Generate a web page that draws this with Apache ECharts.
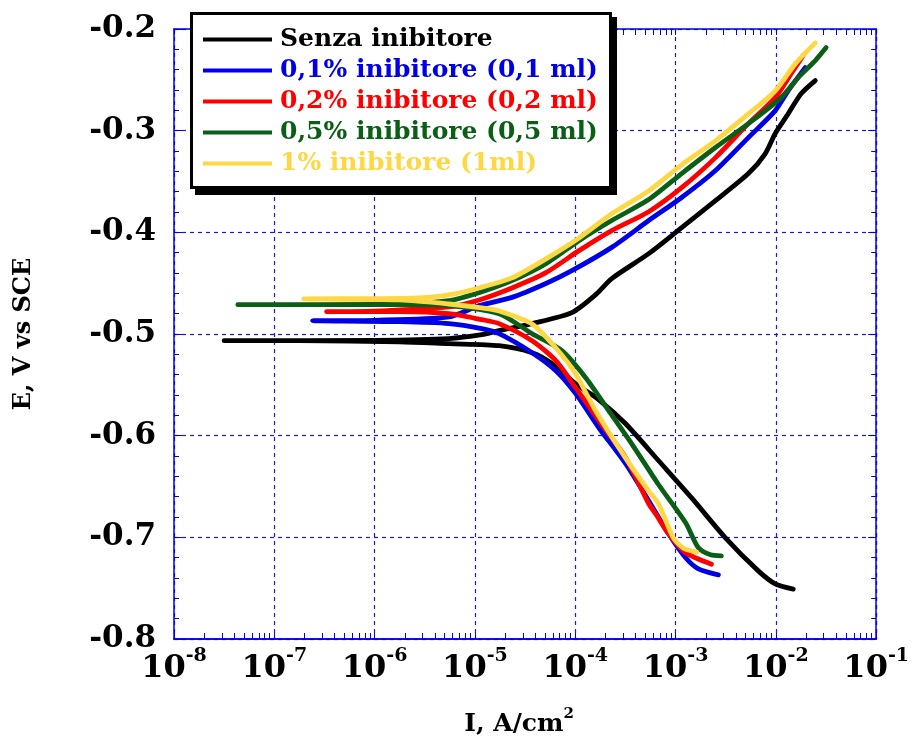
<!DOCTYPE html>
<html>
<head>
<meta charset="utf-8">
<script src="https://cdn.jsdelivr.net/npm/echarts@6/dist/echarts.min.js"></script>
<style>
html, body { margin: 0; padding: 0; background: #ffffff; }
#chart { width: 912px; height: 744px; }
</style>
</head>
<body>
<div id="chart"></div>
<script>
// Polarisation curves: current density (A/cm2, log scale) vs potential (V vs SCE).
// Each curve runs from the cathodic end, along the corrosion potential, then up the anodic branch.

const seriesNames = [
  'Senza inibitore',
  '0,1% inibitore (0,1 ml)',
  '0,2% inibitore (0,2 ml)',
  '0,5% inibitore (0,5 ml)',
  '1% inibitore (1ml)'
];
const seriesColors = ['#000000', '#0000e6', '#ff0000', '#0b5e16', '#fdd744'];

const senzaI = [1.49e-2, 9.86e-3, 6.68e-3, 3.14e-3, 1.44e-3, 6.78e-4, 3.18e-4, 1.72e-4, 1.01e-4, 5.85e-5, 3.71e-5, 1.74e-5, 5.5e-6, 1.78e-6, 1.78e-7, 3.16e-8,
                1.0e-6, 5.5e-6, 1.17e-5, 1.74e-5, 3.71e-5, 9.25e-5, 1.60e-4, 2.31e-4, 5.40e-4, 1.15e-3, 2.50e-3, 5.32e-3, 7.85e-3, 9.86e-3, 1.33e-2, 1.79e-2, 2.47e-2];
const senzaE = [-0.751, -0.7458, -0.733, -0.7005, -0.661, -0.6247, -0.5883, -0.5647, -0.549, -0.529, -0.5184, -0.5115, -0.5095, -0.5076, -0.5066, -0.5066,
                -0.5062, -0.5045, -0.5007, -0.4967, -0.4898, -0.479, -0.4613, -0.4455, -0.421, -0.3954, -0.3688, -0.3422, -0.3225, -0.3028, -0.2832, -0.2635, -0.2507];

const inib01I = [2.67e-3, 1.69e-3, 1.26e-3, 8.51e-4, 5.40e-4, 3.18e-4, 1.72e-4, 1.01e-4, 6.41e-5, 3.71e-5, 1.74e-5, 1.17e-5, 5.5e-6, 1.78e-6, 2.41e-7,
                 1.0e-6, 5.5e-6, 1.10e-5, 2.34e-5, 5.1e-5, 9.25e-5, 2.31e-4, 5.40e-4, 1.15e-3, 2.50e-3, 5.32e-3, 9.86e-3, 1.33e-2, 1.96e-2];
const inib01E = [-0.7369, -0.731, -0.7201, -0.6965, -0.664, -0.6276, -0.5922, -0.5587, -0.5361, -0.5184, -0.4997, -0.4948, -0.4898, -0.4879, -0.4869,
                 -0.4865, -0.4832, -0.4721, -0.464, -0.4503, -0.4377, -0.4148, -0.3884, -0.3657, -0.3392, -0.3068, -0.2803, -0.2606, -0.238];

const inib02I = [2.28e-3, 1.26e-3, 8.51e-4, 6.32e-4, 5.40e-4, 3.18e-4, 1.72e-4, 1.01e-4, 6.41e-5, 3.71e-5, 1.74e-5, 1.17e-5, 5.5e-6, 1.78e-6, 3.32e-7,
                 1.0e-6, 5.5e-6, 1.10e-5, 2.34e-5, 5.1e-5, 1.09e-4, 2.31e-4, 5.40e-4, 1.15e-3, 2.50e-3, 5.32e-3, 9.86e-3, 1.42e-2, 1.87e-2];
const inib02E = [-0.7264, -0.7152, -0.6965, -0.6768, -0.667, -0.6217, -0.5853, -0.5528, -0.5262, -0.5066, -0.4898, -0.4859, -0.48, -0.478, -0.478,
                 -0.4775, -0.4734, -0.4665, -0.4547, -0.4397, -0.418, -0.3983, -0.3797, -0.3561, -0.3265, -0.2931, -0.2675, -0.2439, -0.2262];

const inib05I = [2.86e-3, 2.23e-3, 1.69e-3, 1.26e-3, 6.78e-4, 3.66e-4, 2.16e-4, 1.27e-4, 7.36e-5, 3.71e-5, 1.74e-5, 5.5e-6, 1.78e-6, 4.33e-8,
                 1.0e-6, 5.5e-6, 1.10e-5, 2.34e-5, 5.1e-5, 1.09e-4, 2.31e-4, 5.40e-4, 1.15e-3, 2.50e-3, 5.32e-3, 1.13e-2, 1.67e-2, 2.47e-2, 3.17e-2];
const inib05E = [-0.7182, -0.7172, -0.7103, -0.6857, -0.6483, -0.608, -0.5755, -0.543, -0.5164, -0.4997, -0.48, -0.4721, -0.4712, -0.4712,
                 -0.4708, -0.4672, -0.4593, -0.4475, -0.4308, -0.4082, -0.3884, -0.3678, -0.3422, -0.3166, -0.2931, -0.2675, -0.2478, -0.2311, -0.2183];

const inib1I = [1.62e-3, 1.20e-3, 9.55e-4, 6.78e-4, 5.40e-4, 3.18e-4, 1.60e-4, 1.01e-4, 6.41e-5, 3.71e-5, 1.74e-5, 1.17e-5, 5.5e-6, 1.78e-6, 1.96e-7,
                1.0e-6, 2.79e-6, 5.5e-6, 1.10e-5, 2.34e-5, 5.1e-5, 1.09e-4, 2.31e-4, 5.40e-4, 1.15e-3, 2.50e-3, 5.32e-3, 9.86e-3, 1.56e-2, 2.47e-2];
const inib1E = [-0.7146, -0.7107, -0.7008, -0.6673, -0.6545, -0.6221, -0.5758, -0.5394, -0.5138, -0.4902, -0.4774, -0.4744, -0.4705, -0.4665, -0.4655,
                -0.4652, -0.4645, -0.4616, -0.4547, -0.4448, -0.4261, -0.4055, -0.3818, -0.3592, -0.3336, -0.31, -0.2835, -0.2608, -0.2343, -0.2137];

const currentSets = [senzaI, inib01I, inib02I, inib05I, inib1I];
const potentialSets = [senzaE, inib01E, inib02E, inib05E, inib1E];

// Axis ranges
const xMin = 1e-8, xMax = 1e-1;
const yMin = -0.8, yMax = -0.2, yStep = 0.1;
const decadeExponents = [-8, -7, -6, -5, -4, -3, -2];

const FONT = 'DejaVu Serif';
const AXIS_BLUE = '#0000ee';
const GRID_BLUE = '#1a1ae6';

// log ticks 1..9 in every decade
const logTicks = [];
decadeExponents.forEach(function (d) {
  for (let k = 1; k <= 9; k++) logTicks.push(parseFloat((k * Math.pow(10, d)).toPrecision(3)));
});
logTicks.push(xMax);

function pairs(xs, ys) {
  return xs.map(function (x, i) { return [x, ys[i]]; });
}

const chart = echarts.init(document.getElementById('chart'), null, { renderer: 'canvas' });

const series = seriesNames.map(function (name, i) {
  return {
    name: name,
    type: 'line',
    xAxisIndex: 0,
    yAxisIndex: 0,
    data: pairs(currentSets[i], potentialSets[i]),
    showSymbol: false,
    symbol: 'none',
    smooth: 0.25,
    lineStyle: { color: seriesColors[i], width: 4.8, cap: 'round', join: 'round' },
    itemStyle: { color: seriesColors[i] },
    emphasis: { disabled: true },
    animation: false,
    z: 2 + i
  };
});

const tickAxisCommon = {
  type: 'log',
  logBase: 10,
  min: xMin,
  max: xMax,
  gridIndex: 0,
  axisLine: { show: true, lineStyle: { color: AXIS_BLUE, width: 1.5 } },
  axisTick: { show: true, inside: true, length: 6, customValues: logTicks, lineStyle: { color: AXIS_BLUE, width: 1 } },
  axisLabel: { show: false },
  splitLine: { show: false },
  minorTick: { show: false }
};

const option = {
  backgroundColor: '#ffffff',
  animation: false,
  grid: { left: 174, top: 29, width: 704, height: 610, containLabel: false },
  xAxis: [
    {
      type: 'log',
      logBase: 10,
      min: xMin,
      max: xMax,
      position: 'bottom',
      name: '{t|I, A/cm}{p|2}',
      nameLocation: 'middle',
      nameGap: 68,
      nameTextStyle: {
        padding: [0, 12, 0, 0],
        rich: {
          t: { fontFamily: FONT, fontWeight: 'bold', fontSize: 25, color: '#000', verticalAlign: 'bottom', lineHeight: 30 },
          p: { fontFamily: FONT, fontWeight: 'bold', fontSize: 15, color: '#000', verticalAlign: 'top', lineHeight: 30 }
        }
      },
      axisLine: { show: true, lineStyle: { color: AXIS_BLUE, width: 1.5 } },
      axisTick: { show: false },
      axisLabel: {
        margin: 8,
        formatter: function (v) {
          return '{b|10}{s|' + Math.round(Math.log10(v)) + '}';
        },
        rich: {
          b: { fontFamily: FONT, fontWeight: 'bold', fontSize: 32, color: '#000', verticalAlign: 'bottom', lineHeight: 38 },
          s: { fontFamily: FONT, fontWeight: 'bold', fontSize: 19, color: '#000', verticalAlign: 'top', lineHeight: 38 }
        }
      },
      splitLine: { show: true, lineStyle: { color: GRID_BLUE, width: 1.2, type: [4, 4] } }
    },
    Object.assign({ position: 'bottom' }, tickAxisCommon),
    Object.assign({ position: 'top' }, tickAxisCommon)
  ],
  yAxis: [
    {
      type: 'value',
      min: yMin,
      max: yMax,
      interval: yStep,
      position: 'left',
      name: 'E, V vs SCE',
      nameLocation: 'middle',
      nameRotate: 90,
      nameGap: 138,
      nameTextStyle: { fontFamily: FONT, fontWeight: 'bold', fontSize: 24, color: '#000' },
      axisLine: { show: true, lineStyle: { color: AXIS_BLUE, width: 1.5 } },
      axisTick: { show: true, inside: true, length: 8, lineStyle: { color: AXIS_BLUE, width: 1 } },
      minorTick: { show: true, splitNumber: 5, length: 5, lineStyle: { color: AXIS_BLUE, width: 1 } },
      axisLabel: {
        margin: 18,
        fontFamily: FONT,
        fontWeight: 'bold',
        fontSize: 31,
        color: '#000',
        formatter: function (v) { return v.toFixed(1); }
      },
      splitLine: { show: true, lineStyle: { color: GRID_BLUE, width: 1.2, type: [4, 4] } },
      minorSplitLine: { show: false }
    },
    {
      type: 'value',
      min: yMin,
      max: yMax,
      interval: yStep,
      position: 'right',
      axisLine: { show: true, lineStyle: { color: AXIS_BLUE, width: 1.5 } },
      axisTick: { show: true, inside: true, length: 8, lineStyle: { color: AXIS_BLUE, width: 1 } },
      minorTick: { show: true, splitNumber: 5, length: 5, lineStyle: { color: AXIS_BLUE, width: 1 } },
      axisLabel: { show: false },
      splitLine: { show: false }
    }
  ],
  legend: {
    orient: 'vertical',
    left: 190,
    top: 12,
    padding: [15, 13, 14, 13],
    itemWidth: 69,
    itemHeight: 14,
    itemGap: 6,
    selectedMode: false,
    icon: 'path://M0,0 L69,0 L69,4 L0,4 Z',
    data: seriesNames.map(function (n, i) {
      return { name: n, itemStyle: { color: seriesColors[i] }, textStyle: { color: seriesColors[i] } };
    }),
    textStyle: { fontFamily: FONT, fontWeight: 'bold', fontSize: 25, padding: [0, 0, 0, 3] },
    z: 10
  },
  graphic: [
    { type: 'rect', z: 8, shape: { x: 195, y: 17, width: 422, height: 178 }, style: { fill: '#000' } },
    { type: 'rect', z: 9, shape: { x: 191.5, y: 13.5, width: 419, height: 174 }, style: { fill: '#fff', stroke: '#000', lineWidth: 3 } }
  ],
  series: series
};

chart.setOption(option);
</script>
</body>
</html>
